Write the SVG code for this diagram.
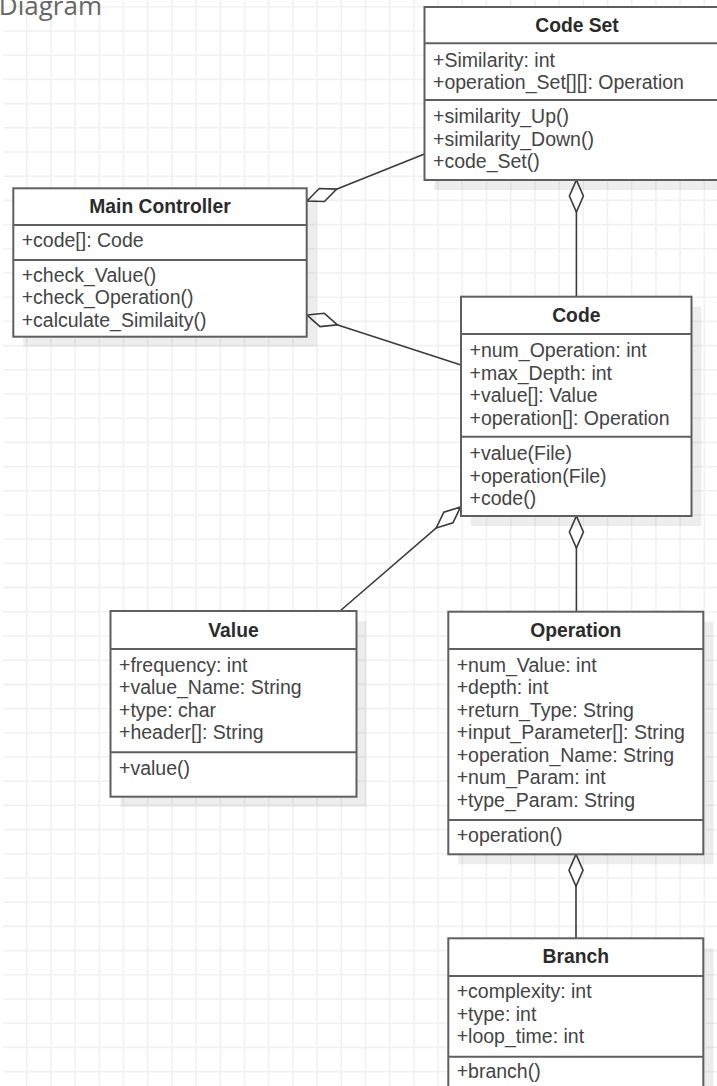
<svg xmlns="http://www.w3.org/2000/svg" width="717" height="1086" viewBox="0 0 717 1086">
<style>
.box{fill:#fff;stroke:#5f5f5f;stroke-width:2}
.shadow{fill:#000;fill-opacity:0.07}
.div{stroke:#5f5f5f;stroke-width:2}
.title{font-family:"Liberation Sans",Arial,sans-serif;font-size:19.3px;font-weight:bold;fill:#2b2b2b;text-anchor:middle}
.item{font-family:"Liberation Sans",Arial,sans-serif;font-size:19.5px;fill:#444}
.conn{fill:none;stroke:#3a3a3a;stroke-width:1.6}
.grid{fill:none;stroke:#f1f1f1;stroke-width:1.6}
</style>
<defs>
<marker id="dia" markerUnits="userSpaceOnUse" markerWidth="36" markerHeight="18" viewBox="-2 -9 36 18" refX="0" refY="0" orient="auto">
<path d="M0,0 L16,-7 L32,0 L16,7 Z" fill="#fff" stroke="#3a3a3a" stroke-width="1.6" stroke-linejoin="miter"/>
</marker>
</defs>
<rect x="0" y="0" width="717" height="1086" fill="#fff"/>
<path class="grid" d="M26.7,0V1086 M50.9,0V1086 M75.1,0V1086 M99.3,0V1086 M123.5,0V1086 M147.7,0V1086 M171.9,0V1086 M196.1,0V1086 M220.3,0V1086 M244.5,0V1086 M268.7,0V1086 M292.9,0V1086 M317.1,0V1086 M341.3,0V1086 M365.5,0V1086 M389.7,0V1086 M413.9,0V1086 M438.1,0V1086 M462.3,0V1086 M486.5,0V1086 M510.7,0V1086 M534.9,0V1086 M559.1,0V1086 M583.3,0V1086 M607.5,0V1086 M631.7,0V1086 M655.9,0V1086 M680.1,0V1086 M704.3,0V1086
M3.3,6.8H717 M3.3,31H717 M3.3,55.2H717 M3.3,79.4H717 M3.3,103.6H717 M3.3,127.8H717 M3.3,152H717 M3.3,176.2H717 M3.3,200.4H717 M3.3,224.6H717 M3.3,248.8H717 M3.3,273H717 M3.3,297.2H717 M3.3,321.4H717 M3.3,345.6H717 M3.3,369.8H717 M3.3,394H717 M3.3,418.2H717 M3.3,442.4H717 M3.3,466.6H717 M3.3,490.8H717 M3.3,515H717 M3.3,539.2H717 M3.3,563.4H717 M3.3,587.6H717 M3.3,611.8H717 M3.3,636H717 M3.3,660.2H717 M3.3,684.4H717 M3.3,708.6H717 M3.3,732.8H717 M3.3,757H717 M3.3,781.2H717 M3.3,805.4H717 M3.3,829.6H717 M3.3,853.8H717 M3.3,878H717 M3.3,902.2H717 M3.3,926.4H717 M3.3,950.6H717 M3.3,974.8H717 M3.3,999H717 M3.3,1023.2H717 M3.3,1047.4H717 M3.3,1071.6H717"/>
<text x="102" y="14.5" font-family="'Open Sans',sans-serif" font-weight="400" font-size="26" fill="#666" text-anchor="end">Diagram</text>

<g id="connectors">
<path class="conn" d="M307,201 L424.5,154" marker-start="url(#dia)"/>
<path class="conn" d="M307,315 L461,365" marker-start="url(#dia)"/>
<path class="conn" d="M460.5,507 L340,611" marker-start="url(#dia)"/>
<path class="conn" d="M576.4,180 L576.4,296.7" marker-start="url(#dia)"/>
<path class="conn" d="M576.4,516 L576.4,611.7" marker-start="url(#dia)"/>
<path class="conn" d="M576,854.3 L576,938.3" marker-start="url(#dia)"/>
</g>

<g id="code-set">
<rect class="shadow" x="434.5" y="17" width="305" height="173"/>
<rect class="box" x="424.5" y="7" width="305" height="173"/>
<line class="div" x1="424.5" y1="43.3" x2="729.5" y2="43.3"/>
<line class="div" x1="424.5" y1="100" x2="729.5" y2="100"/>
<text class="title" x="577" y="32">Code Set</text>
<text class="item" x="433" y="66.7">+Similarity: int</text>
<text class="item" x="433" y="89.3">+operation_Set[][]: Operation</text>
<text class="item" x="433" y="123.3">+similarity_Up()</text>
<text class="item" x="433" y="146">+similarity_Down()</text>
<text class="item" x="433" y="168.3">+code_Set()</text>
</g>

<g id="main-controller">
<rect class="shadow" x="23.3" y="198.3" width="293.4" height="148.4"/>
<rect class="box" x="13.3" y="188.3" width="293.4" height="148.4"/>
<line class="div" x1="13.3" y1="225" x2="306.7" y2="225"/>
<line class="div" x1="13.3" y1="260" x2="306.7" y2="260"/>
<text class="title" x="160" y="213.3">Main Controller</text>
<text class="item" x="21.7" y="246.7">+code[]: Code</text>
<text class="item" x="21.7" y="281.7">+check_Value()</text>
<text class="item" x="21.7" y="304">+check_Operation()</text>
<text class="item" x="21.7" y="326.5">+calculate_Similaity()</text>
</g>

<g id="code">
<rect class="shadow" x="471" y="306.7" width="230.5" height="219.3"/>
<rect class="box" x="461" y="296.7" width="230.5" height="219.3"/>
<line class="div" x1="461" y1="334" x2="691.5" y2="334"/>
<line class="div" x1="461" y1="436.7" x2="691.5" y2="436.7"/>
<text class="title" x="576.3" y="321.7">Code</text>
<text class="item" x="469.5" y="357">+num_Operation: int</text>
<text class="item" x="469.5" y="379.5">+max_Depth: int</text>
<text class="item" x="469.5" y="402">+value[]: Value</text>
<text class="item" x="469.5" y="424.5">+operation[]: Operation</text>
<text class="item" x="469.5" y="460">+value(File)</text>
<text class="item" x="469.5" y="482.5">+operation(File)</text>
<text class="item" x="469.5" y="505">+code()</text>
</g>

<g id="value">
<rect class="shadow" x="120.5" y="621" width="246" height="185.7"/>
<rect class="box" x="110.5" y="611" width="246" height="185.7"/>
<line class="div" x1="110.5" y1="649" x2="356.5" y2="649"/>
<line class="div" x1="110.5" y1="752.3" x2="356.5" y2="752.3"/>
<text class="title" x="233.5" y="636.7">Value</text>
<text class="item" x="119" y="671.7">+frequency: int</text>
<text class="item" x="119" y="694.2">+value_Name: String</text>
<text class="item" x="119" y="716.7">+type: char</text>
<text class="item" x="119" y="739.2">+header[]: String</text>
<text class="item" x="119" y="775">+value()</text>
</g>

<g id="operation">
<rect class="shadow" x="458.3" y="621.7" width="255" height="242.6"/>
<rect class="box" x="448.3" y="611.7" width="255" height="242.6"/>
<line class="div" x1="448.3" y1="649" x2="703.3" y2="649"/>
<line class="div" x1="448.3" y1="820" x2="703.3" y2="820"/>
<text class="title" x="575.8" y="636.7">Operation</text>
<text class="item" x="456.7" y="671.7">+num_Value: int</text>
<text class="item" x="456.7" y="694.2">+depth: int</text>
<text class="item" x="456.7" y="716.7">+return_Type: String</text>
<text class="item" x="456.7" y="739.2">+input_Parameter[]: String</text>
<text class="item" x="456.7" y="761.7">+operation_Name: String</text>
<text class="item" x="456.7" y="784.2">+num_Param: int</text>
<text class="item" x="456.7" y="806.7">+type_Param: String</text>
<text class="item" x="456.7" y="841.7">+operation()</text>
</g>

<g id="branch">
<rect class="shadow" x="458.3" y="948.3" width="255" height="200"/>
<rect class="box" x="448.3" y="938.3" width="255" height="200"/>
<line class="div" x1="448.3" y1="976" x2="703.3" y2="976"/>
<line class="div" x1="448.3" y1="1056.7" x2="703.3" y2="1056.7"/>
<text class="title" x="575.8" y="963.3">Branch</text>
<text class="item" x="456.7" y="998.3">+complexity: int</text>
<text class="item" x="456.7" y="1020.5">+type: int</text>
<text class="item" x="456.7" y="1042.7">+loop_time: int</text>
<text class="item" x="456.7" y="1078.3">+branch()</text>
</g>
</svg>
